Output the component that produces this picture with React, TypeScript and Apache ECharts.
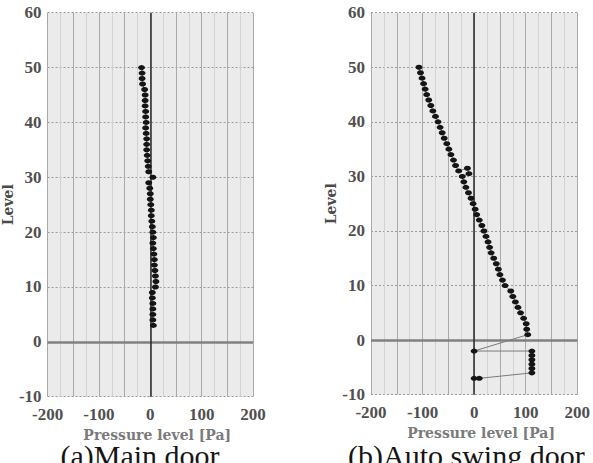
import React, { useEffect, useRef } from "react";
import * as echarts from "echarts";

// (a) Main door: floor level and pressure difference [Pa]
const mainLevels = [50, 49, 48, 47, 46, 45, 44, 43, 42, 41, 40, 39, 38, 37, 36, 35, 34, 33, 32, 31, 30, 29, 28, 27, 26, 25, 24, 23, 22, 21, 20, 19, 18, 17, 16, 15, 14, 13, 12, 11, 10, 9, 8, 7, 6, 5, 4, 3];
const mainPressure = [-17, -16, -16, -15, -11, -10, -10, -10, -9, -9, -8, -9, -8, -7, -7, -7, -6, -5, -4, -3, 5, -3, -1, 0, 0, 1, 2, 2, 3, 4, 5, 6, 5, 6, 7, 8, 8, 9, 10, 11, 10, 4, 4, 5, 5, 5, 5, 6];

// (b) Auto swing door
const autoLevels = [50, 49, 48, 47, 46, 45, 44, 43, 42, 41, 40, 39, 38, 37, 36, 35, 34, 33, 32, 31, 31.5, 30.5, 30, 29, 28, 27, 26, 25, 24, 23, 22, 21, 20, 19, 18, 17, 16, 15, 14, 13, 12, 11, 10, 9, 8, 7, 6, 5, 4, 3, 2, 1, -2, -2, -2.8, -3.6, -4.4, -5.2, -6, -7, -7];
const autoPressure = [-107, -104, -101, -98, -95, -92, -88, -84, -80, -75, -70, -66, -62, -58, -53, -49, -45, -40, -36, -30, -13, -10, -23, -20, -16, -11, -6, -2, 2, 5, 10, 15, 19, 23, 27, 30, 33, 38, 43, 47, 50, 55, 60, 71, 75, 80, 85, 90, 96, 101, 102, 104, 0, 112, 112, 112, 112, 112, 112, 10, 0];

const xTicks = [-200, -100, 0, 100, 200];
const yTicks = [-10, 0, 10, 20, 30, 40, 50, 60];

const captions = ["(a)Main door", "(b)Auto swing door"];

const labelFont = { fontFamily: "Liberation Serif", fontWeight: "bold" as const, fontSize: 17, color: "#505050" };
const nameFont = { fontFamily: "DejaVu Serif", fontWeight: "bold" as const, fontSize: 14 };

function makeX(gridIndex: number) {
  return {
    type: "value",
    gridIndex,
    min: xTicks[0],
    max: xTicks[xTicks.length - 1],
    interval: 50,
    name: "Pressure level [Pa]",
    nameLocation: "middle",
    nameGap: 29,
    nameTextStyle: { ...nameFont, color: "#7a7a7a", padding: [0, 0, 0, 14], lineHeight: 14 },
    axisLine: { show: false },
    axisTick: { show: false },
    axisLabel: {
      ...labelFont,
      margin: 9,
      formatter: (v: number) => (xTicks.includes(v) ? String(v) : ""),
    },
    splitLine: { show: true, lineStyle: { color: "#a9a9a9", width: 1 } },
    minorTick: { show: false, splitNumber: 2 },
    minorSplitLine: { show: true, lineStyle: { color: "#d2d2d2", width: 1 } },
  };
}

function makeY(gridIndex: number) {
  return {
    type: "value",
    gridIndex,
    min: yTicks[0],
    max: yTicks[yTicks.length - 1],
    interval: 10,
    name: "Level",
    nameLocation: "middle",
    nameGap: 30,
    nameRotate: 90,
    nameTextStyle: { ...nameFont, color: "#4a4a4a" },
    axisLine: { show: false },
    axisTick: { show: false },
    axisLabel: { ...labelFont, margin: 6 },
    splitLine: { show: true, lineStyle: { color: "#9a9a9a", width: 1, type: [2, 2] } },
  };
}

function makeSeries(idx: number, xs: number[], ys: number[]) {
  return {
    type: "line",
    xAxisIndex: idx,
    yAxisIndex: idx,
    data: xs.map((x, i) => [x, ys[i]]),
    symbol: "circle",
    symbolSize: [7, 5],
    showSymbol: true,
    itemStyle: { color: "#151515" },
    lineStyle: { color: "#7a7a7a", width: 1 },
    z: 5,
    markLine: {
      silent: true,
      symbol: ["none", "none"],
      label: { show: false },
      z: 3,
      data: [
        { yAxis: 0, lineStyle: { color: "#808080", width: 2.5, type: "solid" } },
        { xAxis: 0, lineStyle: { color: "#2a2a2a", width: 1.5, type: "solid" } },
      ],
    },
  };
}

export default function App() {
  const ref = useRef<HTMLDivElement>(null);
  useEffect(() => {
    if (!ref.current) return;
    const chart = echarts.init(ref.current, null, { renderer: "svg" });
    chart.setOption({
      animation: false,
      backgroundColor: "#ffffff",
      grid: [
        { left: 39.3, top: 12.7, width: 213.7, height: 384, show: true, backgroundColor: "#ebebeb", borderWidth: 0 },
        { left: 371, top: 12.7, width: 212.7, height: 382, show: true, backgroundColor: "#ebebeb", borderWidth: 0 },
      ],
      xAxis: [makeX(0), makeX(1)],
      yAxis: [makeY(0), makeY(1)],
      series: [makeSeries(0, mainPressure, mainLevels), makeSeries(1, autoPressure, autoLevels)],
      graphic: [
        {
          type: "text",
          x: 140,
          y: 445,
          style: { text: captions[0], font: "30px 'Liberation Serif'", lineHeight: 20, fill: "#151515", textAlign: "center", textVerticalAlign: "top" },
        },
        {
          type: "text",
          x: 348,
          y: 445,
          style: { text: captions[1], font: "30px 'Liberation Serif'", lineHeight: 20, fill: "#151515", textAlign: "left", textVerticalAlign: "top" },
        },
      ],
    });
    return () => chart.dispose();
  }, []);
  return <div ref={ref} style={{ position: "absolute", left: 0, top: 0, width: 593, height: 463 }} />;
}
